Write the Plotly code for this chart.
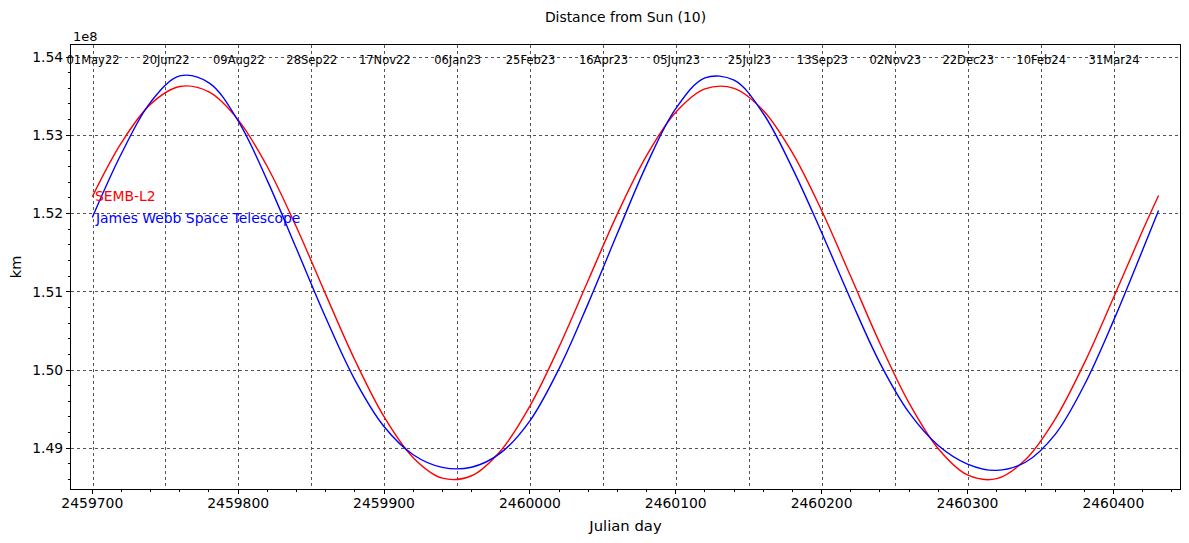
import plotly.graph_objects as go

# values (distance in units of 1e8 km), every 20 days
julian_day = [2459700, 2459720, 2459740, 2459760, 2459780, 2459800, 2459820, 2459840,
              2459860, 2459880, 2459900, 2459920, 2459940, 2459960, 2459980, 2460000,
              2460020, 2460040, 2460060, 2460080, 2460100, 2460120, 2460140, 2460160,
              2460180, 2460200, 2460220, 2460240, 2460260, 2460280, 2460300, 2460320,
              2460340, 2460360, 2460380, 2460400, 2460420, 2460431]
semb_dist = [1.52215, 1.52906, 1.53398, 1.53623, 1.53553, 1.53197, 1.52598, 1.51824,
             1.50967, 1.50128, 1.49404, 1.48880, 1.48618, 1.48649, 1.48969, 1.49540,
             1.50296, 1.51147, 1.51995, 1.52739, 1.53293, 1.53592, 1.53600, 1.53317,
             1.52775, 1.52039, 1.51194, 1.50340, 1.49577, 1.48994, 1.48659, 1.48612,
             1.48859, 1.49369, 1.50085, 1.50920, 1.51779, 1.52230]
jwst_dist = [1.51950, 1.52767, 1.53424, 1.53758, 1.53670, 1.53183, 1.52420, 1.51549,
             1.50671, 1.49875, 1.49278, 1.48918, 1.48756, 1.48758, 1.48941, 1.49351,
             1.50018, 1.50852, 1.51747, 1.52622, 1.53340, 1.53733, 1.53703, 1.53278,
             1.52577, 1.51758, 1.50899, 1.50089, 1.49455, 1.49036, 1.48799, 1.48718,
             1.48825, 1.49175, 1.49805, 1.50625, 1.51530, 1.52040]

y_ticks = [1.49, 1.50, 1.51, 1.52, 1.53, 1.54]
date_jd = [2459700.5, 2459750.5, 2459800.5, 2459850.5, 2459900.5, 2459950.5, 2460000.5,
           2460050.5, 2460100.5, 2460150.5, 2460200.5, 2460250.5, 2460300.5, 2460350.5,
           2460400.5]
date_labels = ['01May22', '20Jun22', '09Aug22', '28Sep22', '17Nov22', '06Jan23', '25Feb23',
               '16Apr23', '05Jun23', '25Jul23', '13Sep23', '02Nov23', '22Dec23', '10Feb24',
               '31Mar24']

FONT = 'DejaVu Sans'
FS = 13.9
xr = [2459685.4, 2460445.7]
yr = [1.484799, 1.541533]

fig = go.Figure()
fig.add_trace(go.Scatter(x=julian_day, y=semb_dist, mode='lines', name='SEMB-L2',
                         line=dict(color='red', width=1.4, shape='spline', smoothing=1)))
fig.add_trace(go.Scatter(x=julian_day, y=jwst_dist, mode='lines', name='James Webb Space Telescope',
                         line=dict(color='blue', width=1.4, shape='spline', smoothing=1)))
# invisible trace so the top (calendar date) axis gets drawn
fig.add_trace(go.Scatter(x=[xr[0]], y=[yr[0]], xaxis='x2', mode='markers',
                         marker=dict(opacity=0), showlegend=False, hoverinfo='skip'))

grid = dict(showgrid=True, gridcolor='#555', griddash='dot', gridwidth=0.7)

# the page body adds an 8px offset, so the figure is 8px smaller and margins shifted
fig.update_layout(
    width=1181, height=535,
    margin=dict(l=63, r=9, t=37, b=54),
    paper_bgcolor='white', plot_bgcolor='white',
    showlegend=False,
    font=dict(family=FONT, size=FS, color='black'),
    title=dict(text='Distance from Sun (10)', x=0.5, xref='paper', xanchor='center',
               y=1 - 9 / 535, yref='container', yanchor='middle', font=dict(size=FS),
               automargin=False),
    xaxis=dict(range=xr, showgrid=False, zeroline=False, automargin=False,
               showline=True, linecolor='black', linewidth=1, mirror=True,
               ticks='outside', ticklen=4, tickcolor='black', dtick=100, tick0=2459700,
               tickformat='d', tickfont=dict(size=FS), ticklabelstandoff=-3,
               minor=dict(dtick=20, ticks='outside', ticklen=2, tickcolor='black', showgrid=False),
               title=dict(text='Julian day', font=dict(size=14.8), standoff=10)),
    xaxis2=dict(range=xr, overlaying='x', side='top', showline=False, automargin=False,
                tickvals=date_jd, ticktext=date_labels, ticks='',
                ticklabelposition='inside', ticklabeloverflow='allow', ticklabelstandoff=8,
                tickfont=dict(size=11.5, color='black'), zeroline=False, **grid),
    yaxis=dict(range=yr, zeroline=False, automargin=False,
               showline=True, linecolor='black', linewidth=1, mirror=True,
               ticks='outside', ticklen=4, tickcolor='black',
               tickvals=y_ticks, ticktext=[f'{v:.2f}' for v in y_ticks],
               tickfont=dict(size=FS),
               minor=dict(dtick=0.002, tick0=1.49, ticks='outside', ticklen=2,
                          tickcolor='black', showgrid=False),
               title=dict(text='km', font=dict(size=14.5), standoff=9), **grid),
)

fig.add_annotation(text='1e8', xref='paper', yref='paper', x=0, y=1, xanchor='left',
                   yanchor='bottom', showarrow=False, font=dict(size=13), yshift=-1)
fig.add_annotation(text='SEMB-L2', xref='paper', yref='y', x=0.0198, y=1.52224,
                   xanchor='left', yanchor='middle', showarrow=False,
                   font=dict(size=FS, color='red'))
fig.add_annotation(text='James Webb Space Telescope', xref='paper', yref='y', x=0.0198,
                   y=1.51943, xanchor='left', yanchor='middle', showarrow=False,
                   font=dict(size=FS, color='blue'))

fig.write_html("out.html")
